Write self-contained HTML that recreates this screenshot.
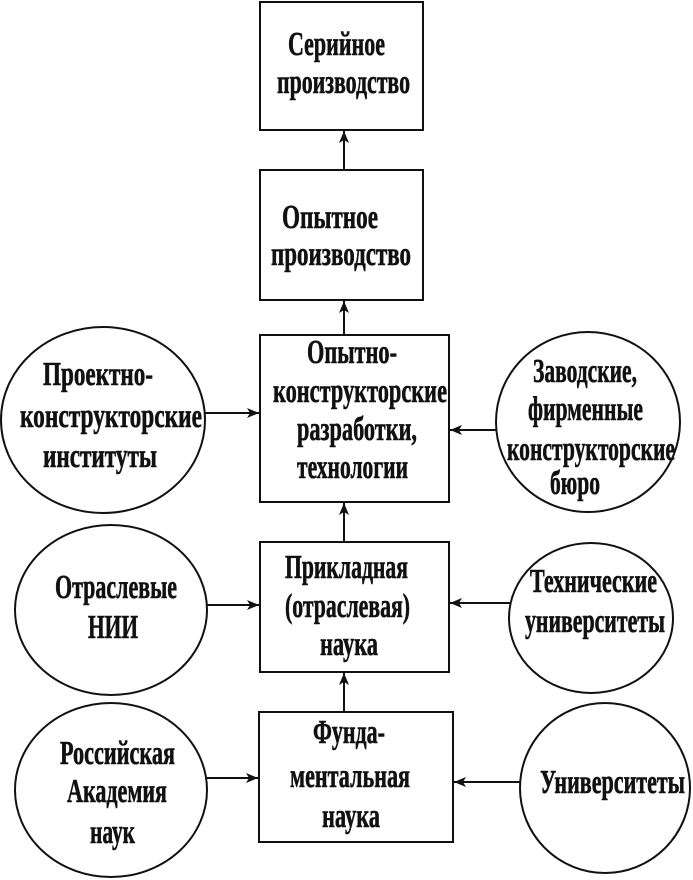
<!DOCTYPE html>
<html><head><meta charset="utf-8"><style>
html,body{margin:0;padding:0;background:#fff;}
svg{display:block;}
text{font-family:"Liberation Serif","Noto Serif CJK SC",serif;font-weight:bold;font-size:34px;fill:#111;stroke:#111;stroke-width:0.6;}
</style></head><body>
<svg width="693" height="880" viewBox="0 0 693 880" xmlns="http://www.w3.org/2000/svg">
<defs>
<marker id="ah" markerWidth="12" markerHeight="10" refX="12" refY="5" orient="auto" markerUnits="userSpaceOnUse">
<path d="M0,0 L12,5 L0,10 L3,5 Z" fill="#111"/>
</marker>
</defs>
<g fill="none" stroke="#111" stroke-width="2">
<rect x="260" y="2" width="163" height="128"/>
<rect x="260" y="170" width="163" height="130"/>
<rect x="260" y="335" width="189" height="167"/>
<rect x="260" y="542" width="189" height="130"/>
<rect x="259" y="712" width="194" height="130"/>
<ellipse cx="103" cy="420" rx="102" ry="93"/>
<ellipse cx="588" cy="422" rx="92" ry="90"/>
<ellipse cx="111" cy="610" rx="96" ry="85"/>
<ellipse cx="591" cy="618" rx="82" ry="75"/>
<ellipse cx="111" cy="790" rx="96" ry="87"/>
<ellipse cx="605" cy="788" rx="85" ry="85"/>
<line x1="344" y1="170" x2="344" y2="131" marker-end="url(#ah)"/>
<line x1="344" y1="335" x2="344" y2="301" marker-end="url(#ah)"/>
<line x1="344" y1="542" x2="344" y2="503" marker-end="url(#ah)"/>
<line x1="344" y1="712" x2="344" y2="673" marker-end="url(#ah)"/>
<line x1="205" y1="413" x2="259" y2="413" marker-end="url(#ah)"/>
<line x1="496" y1="430" x2="450" y2="430" marker-end="url(#ah)"/>
<line x1="207" y1="605" x2="259" y2="605" marker-end="url(#ah)"/>
<line x1="510" y1="603" x2="450" y2="603" marker-end="url(#ah)"/>
<line x1="207" y1="778" x2="258" y2="778" marker-end="url(#ah)"/>
<line x1="520" y1="782" x2="454" y2="782" marker-end="url(#ah)"/>
</g>
<g>
<text x="288" y="55" textLength="97" lengthAdjust="spacingAndGlyphs">Серийное</text>
<text x="277" y="93" textLength="133" lengthAdjust="spacingAndGlyphs">производство</text>

<text x="282" y="228" textLength="96" lengthAdjust="spacingAndGlyphs">Опытное</text>
<text x="271" y="265" textLength="140" lengthAdjust="spacingAndGlyphs">производство</text>

<text x="307" y="363" textLength="90" lengthAdjust="spacingAndGlyphs">Опытно-</text>
<text x="273" y="402" textLength="174" lengthAdjust="spacingAndGlyphs">конструкторские</text>
<text x="297" y="440" textLength="120" lengthAdjust="spacingAndGlyphs">разработки,</text>
<text x="297" y="478" textLength="111" lengthAdjust="spacingAndGlyphs">технологии</text>

<text x="43" y="385" textLength="110" lengthAdjust="spacingAndGlyphs">Проектно-</text>
<text x="20" y="427" textLength="182" lengthAdjust="spacingAndGlyphs">конструкторские</text>
<text x="43" y="467" textLength="114" lengthAdjust="spacingAndGlyphs">институты</text>

<text x="533" y="382" textLength="104" lengthAdjust="spacingAndGlyphs">Заводские,</text>
<text x="528" y="420" textLength="115" lengthAdjust="spacingAndGlyphs">фирменные</text>
<text x="507" y="460" textLength="168" lengthAdjust="spacingAndGlyphs">конструкторские</text>
<text x="550" y="494" textLength="50" lengthAdjust="spacingAndGlyphs">бюро</text>

<text x="285" y="578" textLength="123" lengthAdjust="spacingAndGlyphs">Прикладная</text>
<text x="285" y="617" textLength="125" lengthAdjust="spacingAndGlyphs">(отраслевая)</text>
<text x="320" y="655" textLength="58" lengthAdjust="spacingAndGlyphs">наука</text>

<text x="55" y="598" textLength="122" lengthAdjust="spacingAndGlyphs">Отраслевые</text>
<text x="88" y="638" textLength="50" lengthAdjust="spacingAndGlyphs">НИИ</text>

<text x="530" y="592" textLength="127" lengthAdjust="spacingAndGlyphs">Технические</text>
<text x="525" y="632" textLength="140" lengthAdjust="spacingAndGlyphs">университеты</text>

<text x="313" y="743" textLength="72" lengthAdjust="spacingAndGlyphs">Фунда-</text>
<text x="290" y="787" textLength="120" lengthAdjust="spacingAndGlyphs">ментальная</text>
<text x="322" y="827" textLength="58" lengthAdjust="spacingAndGlyphs">наука</text>

<text x="60" y="764" textLength="115" lengthAdjust="spacingAndGlyphs">Российская</text>
<text x="67" y="802" textLength="100" lengthAdjust="spacingAndGlyphs">Академия</text>
<text x="90" y="843" textLength="45" lengthAdjust="spacingAndGlyphs">наук</text>

<text x="540" y="793" textLength="145" lengthAdjust="spacingAndGlyphs">Университеты</text>
</g>
</svg>
</body></html>
